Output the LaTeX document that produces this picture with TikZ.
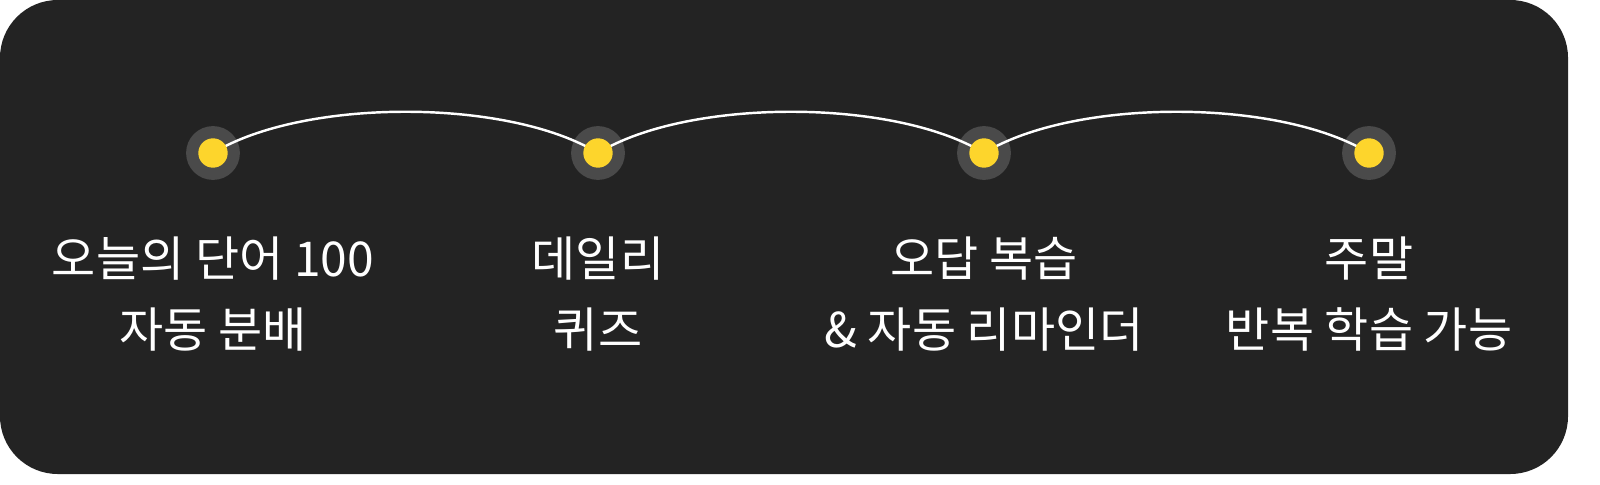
\documentclass[tikz,border=0pt]{standalone}
\usepackage{fontspec}
\setmainfont{Noto Sans CJK KR}
\begin{document}
\begin{tikzpicture}[x=1.0215pt,y=-1.0215pt,
  ring/.style={circle,fill=ringgray,minimum size=55pt,inner sep=0pt},
  dotc/.style={circle,fill=dotyellow,minimum size=30pt,inner sep=0pt},
  lbl/.style={text=white,align=center,font=\fontsize{49}{73}\selectfont}]
\definecolor{bg}{HTML}{232323}
\definecolor{ringgray}{HTML}{4A4A4A}
\definecolor{dotyellow}{HTML}{FDD52C}
\useasboundingbox (0,0) rectangle (1600,484);
\fill[white] (0,0) rectangle (1600,484);
\fill[bg,rounded corners=59pt] (0,0) rectangle (1568,474);
\foreach \n/\x in {a/213,b/598,c/984,d/1369}{
  \node[ring] (r\n) at (\x,153) {};
}
\foreach \p/\q in {a/b,b/c,c/d}{
  \draw[white,line width=2.5pt] (r\p.center) .. controls ([shift={(90,-55)}]r\p.center) and ([shift={(-90,-55)}]r\q.center) .. (r\q.center);
}
\foreach \n in {a,b,c,d}{ \node[dotc] (y\n) at (r\n) {}; }
\node[lbl] (t1) at (213,294) {오늘의 단어 100\\자동 분배};
\node[lbl] (t2) at (598,294) {데일리\\퀴즈};
\node[lbl] (t3) at (984,294) {오답 복습\\\& 자동 리마인더};
\node[lbl] (t4) at (1369,294) {주말\\반복 학습 가능};
\end{tikzpicture}
\end{document}
